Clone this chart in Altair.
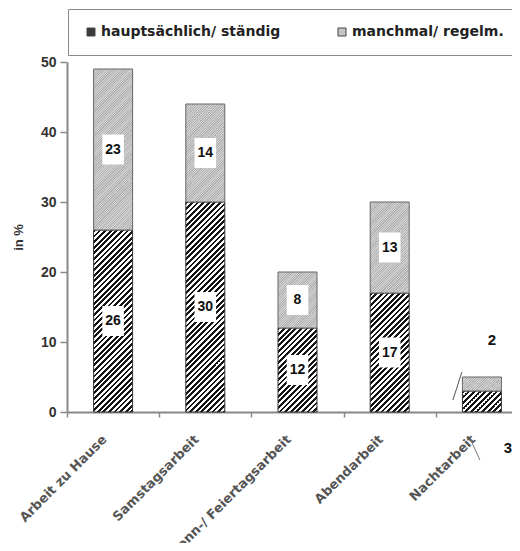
import altair as alt
import pandas as pd

# ---------------- data ----------------
categories = ["Arbeit zu Hause", "Samstagsarbeit", "Sonn-/ Feiertagsarbeit", "Abendarbeit", "Nachtarbeit"]
series_names = ["hauptsächlich/ ständig", "manchmal/ regelm."]
main_values = [26, 30, 12, 17, 3]
sometimes_values = [23, 14, 8, 13, 2]
label_inside = [True, True, True, True, False]
y_ticks = [0, 10, 20, 30, 40, 50]

# ---------------- layout ----------------
PLOT_W = 445
PLOT_H = 350
Y_MAX = 50
BAR_W = 39
PX = PLOT_H / Y_MAX

rows = []
for cat, a, b, ins in zip(categories, main_values, sometimes_values, label_inside):
    rows.append({"cat": cat, "series": series_names[0], "y0": 0, "y1": a, "val": a, "mid": a / 2, "inside": ins})
    rows.append({"cat": cat, "series": series_names[1], "y0": a, "y1": a + b, "val": b, "mid": a + b / 2, "inside": ins})
df = pd.DataFrame(rows)


def hatch_gradient(h_px, w_px=BAR_W, period=5.6, dark_frac=0.5, k=2.0,
                   dark="#151515", light="#ffffff"):
    """Diagonal '////' stripes built from a linear gradient in bounding-box units."""
    scale = w_px / (k * (w_px ** 2 + h_px ** 2))
    smax = w_px + h_px + period
    stops = []
    s = 0.0
    while s < smax:
        for off, col in ((s, dark), (s + period * dark_frac, dark),
                         (s + period * dark_frac, light), (s + period, light)):
            stops.append({"offset": min(1.0, off * scale), "color": col})
        s += period
    return {"gradient": "linear", "x1": 0, "y1": 0, "x2": k, "y2": k * h_px / w_px, "stops": stops}


x_enc = alt.X(
    "cat:N", sort=categories, title=None,
    scale=alt.Scale(range=[0, 461], paddingInner=0, paddingOuter=0),
    axis=alt.Axis(labelAngle=-45, labelAlign="right", labelBaseline="middle",
                  labelFont="DejaVu Sans", labelFontSize=13, labelFontWeight="bold",
                  labelColor="#555", labelPadding=20, labelOffset=-9, labelLimit=400,
                  tickBand="extent", tickSize=5, tickColor="#888", tickWidth=1.5,
                  domainColor="#888", domainWidth=2, grid=False),
)
y_scale = alt.Scale(domain=[0, Y_MAX], nice=False)
y_axis = alt.Axis(values=y_ticks, title="in %", titleFont="Liberation Sans", titleFontSize=13,
                  titleFontWeight="bold", titleColor="#333", titlePadding=15,
                  labelFont="Liberation Sans", labelFontSize=14, labelFontWeight="bold",
                  labelColor="#333", labelPadding=4, tickSize=7, tickColor="#888", tickWidth=1.5,
                  domainColor="#888", domainWidth=2, grid=False)


def Y(field):
    return alt.Y(field, scale=y_scale, axis=y_axis)


base = alt.Chart(df)
layers = []
for cat, a, b in zip(categories, main_values, sometimes_values):
    layers.append(
        base.transform_filter((alt.datum.cat == cat) & (alt.datum.series == series_names[0]))
        .mark_bar(fill=hatch_gradient(a * PX), stroke="#333", strokeWidth=1, width=BAR_W)
        .encode(x=x_enc, y=Y("y0:Q"), y2="y1:Q")
    )
    layers.append(
        base.transform_filter((alt.datum.cat == cat) & (alt.datum.series == series_names[1]))
        .mark_bar(fill=hatch_gradient(b * PX, period=2.4, dark="#b2b2b2", light="#d2d2d2"),
                  stroke="#666", strokeWidth=1, width=BAR_W)
        .encode(x=x_enc, y=Y("y0:Q"), y2="y1:Q")
    )

boxes = (base.transform_filter("datum.inside")
         .mark_point(shape="M-0.72,-1H0.72V1H-0.72Z", size=900, filled=True, fill="white",
                     opacity=1, strokeWidth=0)
         .encode(x=x_enc, y=Y("mid:Q")))

texts = (base.transform_filter("datum.inside")
         .mark_text(font="Liberation Sans", fontSize=14, fontWeight="bold", color="#111")
         .encode(x=x_enc, y=Y("mid:Q"), text="val:Q"))

out2 = (base.transform_filter(f"!datum.inside && datum.series === '{series_names[1]}'")
        .mark_text(font="Liberation Sans", fontSize=15, fontWeight="bold", color="#111", dx=10, dy=-37)
        .encode(x=x_enc, y=Y("y1:Q"), text="val:Q"))

out3 = (base.transform_filter(f"!datum.inside && datum.series === '{series_names[0]}'")
        .mark_text(font="Liberation Sans", fontSize=15, fontWeight="bold", color="#111", dx=26, dy=36)
        .encode(x=x_enc, y=Y("y0:Q"), text="val:Q"))

lead2 = (base.transform_filter(f"!datum.inside && datum.series === '{series_names[1]}'")
         .mark_rule(color="#555", strokeWidth=1, xOffset=-29, x2Offset=-20, yOffset=9, y2Offset=-5)
         .encode(x=x_enc, x2=alt.X2("cat"), y=Y("y0:Q"), y2="y1:Q"))

lead3 = (base.transform_filter(f"!datum.inside && datum.series === '{series_names[0]}'")
         .mark_rule(color="#777", strokeWidth=1, xOffset=-12, x2Offset=-2, yOffset=26, y2Offset=48)
         .encode(x=x_enc, x2=alt.X2("cat"), y=Y("y0:Q"), y2="y0:Q"))

legend_layer = (base.mark_square(size=10, opacity=0)
                .encode(x=x_enc, y=Y("mid:Q"),
                        color=alt.Color("series:N",
                                        scale=alt.Scale(domain=series_names, range=["#3a3a3a", "#c4c4c4"]),
                                        legend=alt.Legend(orient="none", legendX=1, legendY=-53,
                                                          direction="horizontal", columns=2, title=None,
                                                          padding=16, strokeColor="#8a8a8a", fillColor="white",
                                                          symbolType="square", symbolSize=64,
                                                          symbolStrokeColor="#444", symbolStrokeWidth=1,
                                                          symbolOpacity=1, labelFont="DejaVu Sans",
                                                          labelFontSize=14, labelFontWeight="bold",
                                                          labelColor="#222", labelOffset=3,
                                                          columnPadding=54, labelLimit=400))))

chart = alt.layer(*layers, boxes, texts, out2, out3, lead2, lead3, legend_layer).properties(
    width=PLOT_W, height=PLOT_H,
    autosize=alt.AutoSizeParams(type="none"),
    padding={"left": 59, "top": 54, "right": 0, "bottom": 131},
).configure_view(stroke=None)

chart.save("out.html", embed_options={"renderer": "svg", "actions": False})
